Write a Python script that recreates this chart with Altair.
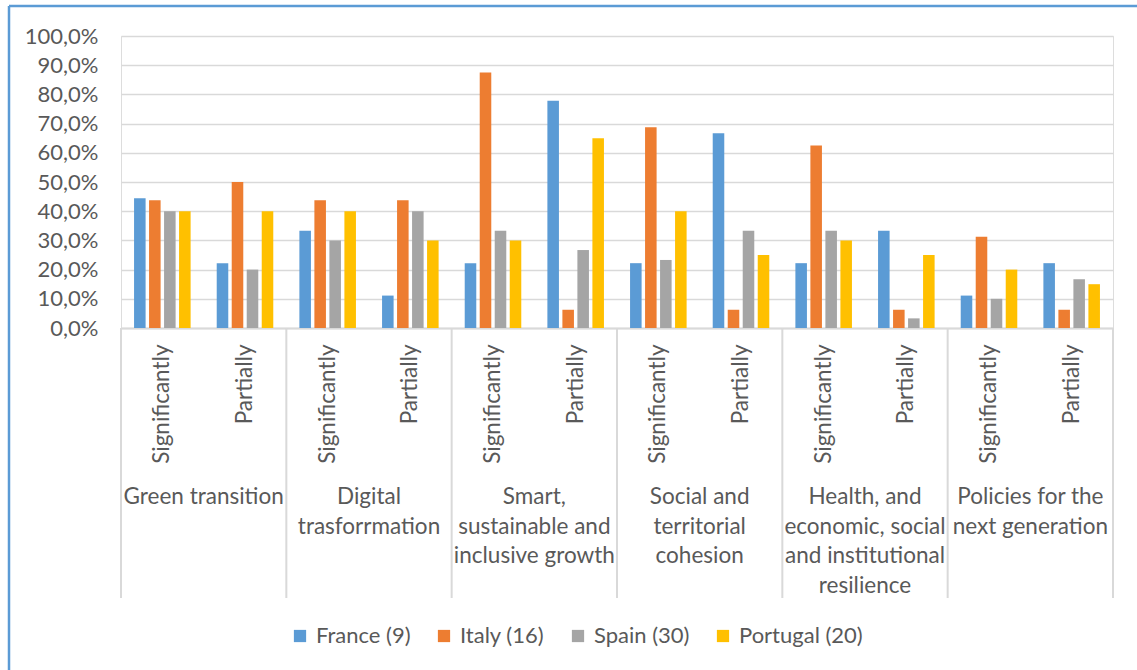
import altair as alt
import pandas as pd

groups = [
    "Green transition",
    "Digital trasforrmation",
    "Smart, sustainable and inclusive growth",
    "Social and territorial cohesion",
    "Health, and economic, social and institutional resilience",
    "Policies for the next generation",
]
group_lines = [
    "Green transition",
    "Digital\ntrasforrmation",
    "Smart,\nsustainable and\ninclusive growth",
    "Social and\nterritorial\ncohesion",
    "Health, and\neconomic, social\nand institutional\nresilience",
    "Policies for the\nnext generation",
]
levels = ["Significantly", "Partially"]
countries = ["France (9)", "Italy (16)", "Spain (30)", "Portugal (20)"]
colors = ["#5B9BD5", "#ED7D31", "#A5A5A5", "#FFC000"]

france = [44.4, 22.2, 33.3, 11.1, 22.2, 77.8, 22.2, 66.7, 22.2, 33.3, 11.1, 22.2]
italy = [43.75, 50.0, 43.75, 43.75, 87.5, 6.25, 68.75, 6.25, 62.5, 6.25, 31.25, 6.25]
spain = [40.0, 20.0, 30.0, 40.0, 33.3, 26.7, 23.3, 33.3, 33.3, 3.3, 10.0, 16.7]
portugal = [40.0, 40.0, 40.0, 30.0, 30.0, 65.0, 40.0, 25.0, 30.0, 25.0, 20.0, 15.0]
y_ticks = [0, 10, 20, 30, 40, 50, 60, 70, 80, 90, 100]

slots = [f"{g}|{l}" for g in groups for l in levels]
series = {c: v for c, v in zip(countries, [france, italy, spain, portugal])}

rows = []
for c in countries:
    for s, v in zip(slots, series[c]):
        rows.append({"slot": s, "country": c, "value": v})
df = pd.DataFrame(rows)

gdf = pd.DataFrame({"slot": [f"{g}|Significantly" for g in groups], "label": group_lines})
last_df = pd.DataFrame({"slot": [slots[-1]]})

W, H = 992, 292
HALF = W / len(slots) / 2  # half a category slot, in pixels
FONT = "Lato"
TXT = "#595959"
GRID = "#D9D9D9"
SEP_LEN = 270

xscale = alt.Scale(domain=slots, paddingInner=0, paddingOuter=0)
yscale = alt.Scale(domain=[0, 100])

bars = alt.Chart(df).mark_bar().encode(
    x=alt.X("slot:N", scale=xscale, title=None,
            axis=alt.Axis(labelExpr="split(datum.value, '|')[1]", labelAngle=-90,
                          labelPadding=16, ticks=False, domainColor=GRID, domainWidth=2,
                          labelFont=FONT, labelFontSize=22.5, labelColor=TXT, grid=False)),
    xOffset=alt.XOffset("country:N", sort=countries,
                        scale=alt.Scale(paddingInner=0.23, paddingOuter=0.87)),
    y=alt.Y("value:Q", scale=yscale, title=None,
            axis=alt.Axis(values=y_ticks, domain=False, ticks=False, gridColor=GRID, gridWidth=1.6,
                          labelExpr="replace(format(datum.value, '.1f'), '.', ',') + '%'",
                          labelPadding=23, labelFont=FONT, labelFontSize=22, labelColor=TXT)),
    color=alt.Color("country:N", sort=countries,
                    scale=alt.Scale(domain=countries, range=colors),
                    legend=alt.Legend(title=None, orient="none", direction="horizontal",
                                      legendX=168, legendY=589, symbolType="square",
                                      symbolSize=150, symbolStrokeWidth=0, labelFont=FONT,
                                      labelFontSize=22, labelColor=TXT, labelOffset=5,
                                      columnPadding=22, padding=0)),
)

seps = alt.Chart(gdf).mark_tick(orient="vertical", size=SEP_LEN, thickness=2, color=GRID,
                                opacity=1, xOffset=-HALF).encode(
    x=alt.X("slot:N", scale=xscale),
    y=alt.value(H + SEP_LEN / 2),
)
sep_last = alt.Chart(last_df).mark_tick(orient="vertical", size=SEP_LEN, thickness=2, color=GRID,
                                        opacity=1, xOffset=HALF).encode(
    x=alt.X("slot:N", scale=xscale),
    y=alt.value(H + SEP_LEN / 2),
)

glabels = alt.Chart(gdf).mark_text(lineBreak="\n", lineHeight=29.5, baseline="top",
                                   align="center", font=FONT, fontSize=22.5, color=TXT,
                                   dx=HALF).encode(
    x=alt.X("slot:N", scale=xscale),
    y=alt.value(450),
    text="label:N",
)

border_left = alt.Chart(last_df).mark_rule(color="#5B9BD5", strokeWidth=2.5).encode(
    x=alt.value(-112), y=alt.value(-30), y2=alt.value(H + 400))
border_top = alt.Chart(last_df).mark_rule(color="#5B9BD5", strokeWidth=2.5).encode(
    x=alt.value(-112), x2=alt.value(W + 40), y=alt.value(-30))

chart = alt.layer(bars, seps, sep_last, glabels, border_left, border_top).properties(
    width=W, height=H,
    autosize=alt.AutoSizeParams(type="none"),
    padding={"left": 121, "top": 36, "right": 24, "bottom": 342},
).configure_view(stroke=None).configure(background="white")

chart.save("out.html", embed_options={"renderer": "svg", "actions": False})
